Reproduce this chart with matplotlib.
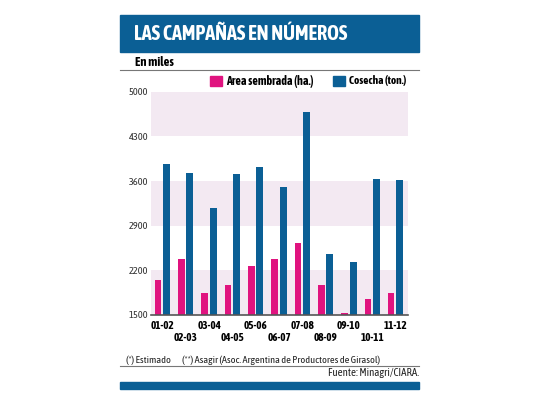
import numpy as np
import matplotlib
matplotlib.use('Agg')
import matplotlib.pyplot as plt
from matplotlib import font_manager as fm
from matplotlib.patches import Rectangle

nombres = {f.name for f in fm.fontManager.ttflist}
if 'Asap Condensed' in nombres:
    plt.rcParams['font.family'] = ['Asap Condensed', 'DejaVu Sans']
    k = 1.0
else:
    plt.rcParams['font.family'] = ['Liberation Sans', 'DejaVu Sans']
    k = 0.8

campanas = ['01-02', '02-03', '03-04', '04-05', '05-06', '06-07',
            '07-08', '08-09', '09-10', '10-11', '11-12']
area = [2050, 2380, 1850, 1970, 2265, 2385, 2630, 1965, 1535, 1755, 1850]
cosecha = [3860, 3730, 3170, 3715, 3815, 3510, 4675, 2455, 2325, 3630, 3615]
yticks = [1500, 2200, 2900, 3600, 4300, 5000]

azul = '#0b5f95'
rosa = '#e0137f'
banda = '#f3e9f2'

fig = plt.figure(figsize=(5.4, 4.05), dpi=100)

deco = fig.add_axes([0, 0, 1, 1])
deco.set_xlim(0, 540)
deco.set_ylim(405, 0)
deco.axis('off')
deco.add_patch(Rectangle((120, 15), 299, 37, color=azul))
deco.text(134, 34, 'LAS CAMPAÑAS EN NÚMEROS', color='white', fontsize=14.5 * k,
          fontweight='bold', va='center', ha='left')
deco.text(135, 62, 'En miles', fontsize=9 * k, fontweight='bold', va='center')
deco.plot([120, 419], [70, 70], color='#777777', lw=0.8)
deco.add_patch(Rectangle((210, 76), 12, 10, color=rosa))
deco.text(226, 81, 'Area sembrada (ha.)', fontsize=8.6 * k, fontweight='bold', va='center')
deco.add_patch(Rectangle((333, 76), 12, 10, color=azul))
deco.text(349, 81, 'Cosecha (ton.)', fontsize=8.1 * k, fontweight='bold', va='center')
deco.text(126, 360, '(*) Estimado', fontsize=7.4 * k, va='center', color='#222222')
deco.text(182, 360, '(**) Asagir (Asoc. Argentina de Productores de Girasol)',
          fontsize=7.4 * k, va='center', color='#222222')
deco.plot([120, 419], [366, 366], color='#777777', lw=0.8)
deco.text(419, 373, 'Fuente: Minagri/CIARA.', fontsize=7.8 * k, va='center',
          ha='right', color='#222222')
deco.add_patch(Rectangle((120, 382), 299, 6.5, color=azul))

ax = fig.add_axes([151 / 540, 90 / 405, 257 / 540, 223.3 / 405])
x = np.arange(len(campanas))
for lo in [1500, 2900, 4300]:
    ax.axhspan(lo, lo + 700, color=banda, lw=0, zorder=0)
ax.bar(x - 0.19, area, width=0.28, color=rosa, zorder=2)
ax.bar(x + 0.18, cosecha, width=0.30, color=azul, zorder=2)
ax.set_xlim(-0.49, 10.53)
ax.set_ylim(1500, 5000)
ax.set_yticks(yticks)
ax.set_yticklabels([str(v) for v in yticks], fontsize=7.5 * k, color='#333333')
ax.tick_params(axis='y', length=0, pad=2)
ax.set_xticks([])
for i, c in enumerate(campanas):
    yy = -0.045 if i % 2 == 0 else -0.10
    ax.text(i, yy, c, transform=ax.get_xaxis_transform(), ha='center',
            va='center', fontsize=8 * k, fontweight='bold')
for s in ['top', 'right', 'left']:
    ax.spines[s].set_visible(False)
ax.spines['bottom'].set_color('#555555')
ax.spines['bottom'].set_linewidth(1.2)
ax.patch.set_alpha(0)

fig.savefig('out.png', dpi=100)
